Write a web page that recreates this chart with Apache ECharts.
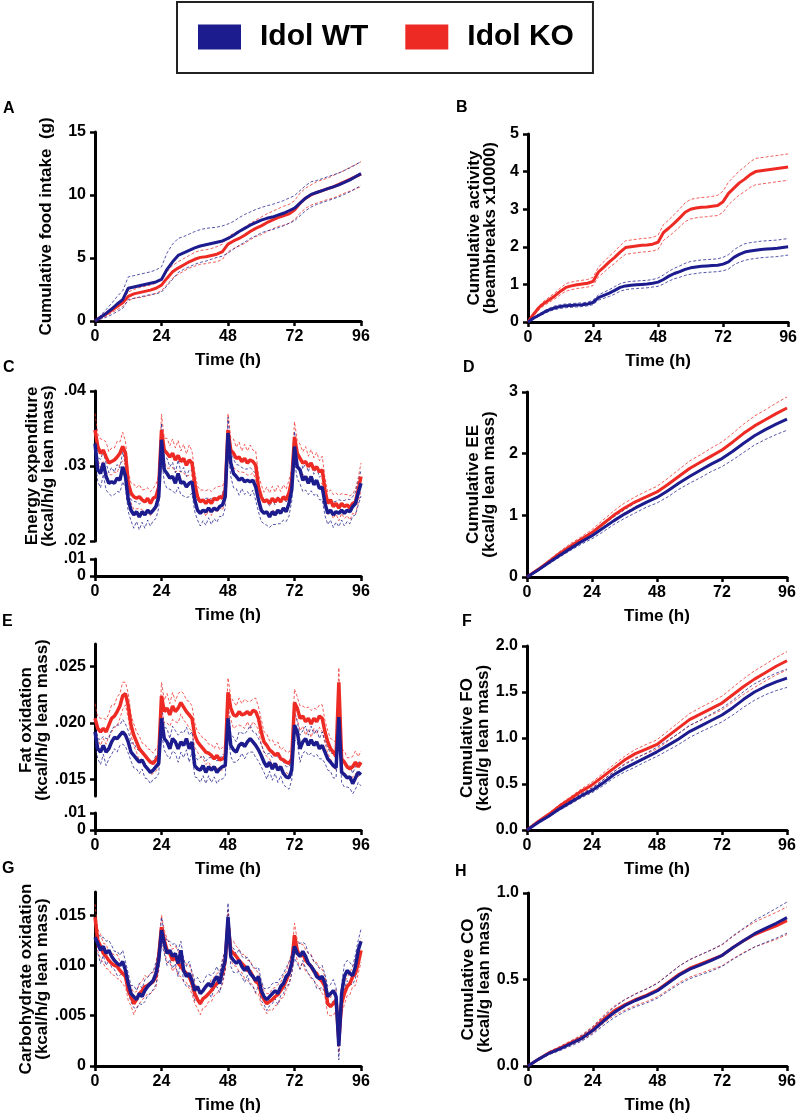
<!DOCTYPE html>
<html><head><meta charset="utf-8">
<script src="https://cdn.jsdelivr.net/npm/echarts@6/dist/echarts.min.js"></script>
<style>html,body{margin:0;padding:0;background:#fff}#chart{width:800px;height:1115px}</style>
</head><body><div id="chart"></div>
<script>
// ---------- time axes ----------
const HOURS_1H = [0,1,2,3,4,5,6,7,8,9,10,11,12,13,14,15,16,17,18,19,20,21,22,23,
  24,25,26,27,28,29,30,31,32,33,34,35,36,37,38,39,40,41,42,43,44,45,46,47,
  48,49,50,51,52,53,54,55,56,57,58,59,60,61,62,63,64,65,66,67,68,69,70,71,
  72,73,74,75,76,77,78,79,80,81,82,83,84,85,86,87,88,89,90,91,92,93,94,95,96];
const HOURS_2H = [0,2,4,6,8,10,12,14,16,18,20,22,24,26,28,30,32,34,36,38,40,42,44,46,48,
  50,52,54,56,58,60,62,64,66,68,70,72,74,76,78,80,82,84,86,88,90,92,94,96];
const HOURS_4H = [0,4,8,12,16,20,24,28,32,36,40,44,48,52,56,60,64,68,72,76,80,84,88,92,96];
const TIME_TICKS = [0,24,48,72,96];

// ---------- A: cumulative food intake (g) ----------
const A_WT = [0,0.3,0.6,0.95,1.35,1.7,2.6,2.7,2.8,2.9,3.0,3.1,3.3,4.1,4.7,5.2,5.4,5.6,5.8,5.95,6.05,6.15,6.25,6.35,6.55,
  6.8,7.1,7.35,7.6,7.8,8.0,8.15,8.25,8.4,8.55,8.75,8.95,9.35,9.75,10.05,10.2,10.35,10.5,10.65,10.8,11.0,11.2,11.45,11.7];
const A_WT_SEM = [0,0.15,0.3,0.45,0.6,0.7,0.9,0.9,0.9,0.9,0.9,0.95,1.0,1.3,1.4,1.35,1.3,1.3,1.3,1.3,1.3,1.25,1.2,1.2,1.15,
  1.1,1.1,1.1,1.05,1.05,1.0,1.0,1.0,1.0,1.0,1.0,1.0,1.0,1.0,1.0,0.95,0.95,0.95,0.95,0.95,0.95,0.95,0.95,0.95];
const A_KO = [0,0.3,0.55,0.85,1.15,1.45,1.95,2.15,2.25,2.35,2.45,2.6,2.85,3.4,3.9,4.2,4.45,4.7,4.9,5.05,5.1,5.2,5.3,5.5,6.1,
  6.35,6.55,6.8,7.1,7.35,7.55,7.8,8.0,8.2,8.35,8.5,8.8,9.35,9.75,10.0,10.2,10.35,10.5,10.65,10.85,11.05,11.25,11.45,11.65];
const A_KO_SEM = [0,0.1,0.15,0.2,0.25,0.3,0.35,0.35,0.4,0.4,0.4,0.4,0.45,0.5,0.5,0.5,0.5,0.5,0.55,0.55,0.55,0.55,0.6,0.6,0.6,
  0.6,0.6,0.65,0.65,0.65,0.7,0.7,0.7,0.7,0.75,0.75,0.75,0.8,0.8,0.8,0.85,0.85,0.85,0.9,0.9,0.9,0.95,0.95,1.0];

// ---------- B: cumulative activity (beambreaks x10000) ----------
const B_WT = [0,0.1,0.18,0.26,0.33,0.38,0.41,0.43,0.44,0.45,0.46,0.48,0.52,0.65,0.71,0.77,0.84,0.92,0.96,0.98,0.99,1.0,1.01,1.03,1.06,
  1.13,1.22,1.29,1.34,1.4,1.44,1.46,1.48,1.49,1.5,1.51,1.54,1.6,1.72,1.8,1.86,1.89,1.91,1.93,1.94,1.95,1.96,1.98,2.0];
const B_WT_SEM = [0,0.02,0.03,0.04,0.04,0.05,0.05,0.05,0.05,0.05,0.05,0.05,0.06,0.07,0.08,0.09,0.1,0.1,0.1,0.1,0.1,0.1,0.1,0.1,0.11,
  0.12,0.13,0.14,0.15,0.16,0.17,0.17,0.17,0.17,0.17,0.17,0.18,0.19,0.2,0.21,0.22,0.22,0.22,0.22,0.22,0.22,0.22,0.22,0.22];
const B_KO = [0,0.2,0.38,0.5,0.6,0.7,0.82,0.92,0.96,0.99,1.01,1.03,1.08,1.33,1.46,1.6,1.72,1.86,1.98,2.0,2.02,2.04,2.05,2.07,2.12,
  2.38,2.5,2.63,2.77,2.92,3.0,3.03,3.05,3.06,3.08,3.1,3.2,3.42,3.56,3.7,3.8,3.92,4.0,4.02,4.04,4.06,4.08,4.1,4.12];
const B_KO_SEM = [0,0.03,0.05,0.06,0.07,0.08,0.09,0.1,0.1,0.1,0.1,0.1,0.11,0.13,0.14,0.15,0.16,0.17,0.18,0.18,0.18,0.18,0.18,0.18,0.19,
  0.21,0.22,0.23,0.24,0.25,0.26,0.26,0.26,0.26,0.26,0.27,0.28,0.3,0.31,0.32,0.33,0.34,0.35,0.35,0.35,0.35,0.35,0.35,0.35];

// ---------- C: energy expenditure (kcal/h/g lean mass) ----------
const C_WT = [
  .0330,.0295,.0290,.0304,.0286,.0277,.0279,.0277,.0284,.0281,.0299,.0286,.0255,.0241,.0235,.0239,.0232,.0239,.0235,.0241,.0237,.0241,.0246,.0259,
  .0335,.0295,.0290,.0284,.0286,.0277,.0290,.0277,.0279,.0272,.0277,.0279,.0255,.0241,.0237,.0241,.0239,.0244,.0239,.0244,.0241,.0246,.0248,.0259,
  .0344,.0304,.0290,.0286,.0281,.0284,.0279,.0281,.0279,.0281,.0272,.0255,.0241,.0237,.0239,.0232,.0239,.0235,.0241,.0237,.0244,.0239,.0250,.0268,
  .0326,.0299,.0295,.0281,.0286,.0277,.0286,.0275,.0281,.0270,.0272,.0250,.0237,.0241,.0235,.0239,.0237,.0241,.0237,.0241,.0239,.0246,.0250,.0264,
  .0277];
const C_WT_SEM = [
  .0020,.0016,.0019,.0015,.0018,.0014,.0019,.0015,.0018,.0016,.0020,.0015,.0016,.0014,.0018,.0013,.0017,.0014,.0018,.0013,.0017,.0014,.0016,.0015,
  .0022,.0017,.0020,.0015,.0019,.0014,.0018,.0015,.0019,.0014,.0018,.0015,.0016,.0013,.0017,.0014,.0018,.0013,.0017,.0014,.0016,.0013,.0016,.0015,
  .0021,.0018,.0019,.0016,.0020,.0014,.0017,.0015,.0019,.0013,.0018,.0016,.0015,.0014,.0018,.0014,.0017,.0013,.0018,.0014,.0016,.0013,.0017,.0015,
  .0020,.0016,.0019,.0015,.0018,.0015,.0019,.0014,.0018,.0015,.0017,.0016,.0015,.0013,.0017,.0014,.0018,.0013,.0017,.0015,.0016,.0013,.0015,.0016,
  .0017];
const C_KO = [
  .0348,.0326,.0317,.0321,.0312,.0304,.0306,.0308,.0312,.0317,.0326,.0317,.0277,.0264,.0259,.0257,.0259,.0255,.0252,.0257,.0250,.0257,.0259,.0272,
  .0348,.0321,.0317,.0312,.0317,.0308,.0314,.0306,.0310,.0301,.0308,.0304,.0277,.0259,.0252,.0255,.0250,.0255,.0250,.0257,.0255,.0259,.0257,.0268,
  .0348,.0321,.0317,.0310,.0312,.0306,.0310,.0304,.0308,.0306,.0301,.0272,.0259,.0252,.0255,.0250,.0257,.0252,.0257,.0252,.0259,.0255,.0264,.0281,
  .0339,.0317,.0310,.0304,.0306,.0299,.0304,.0295,.0299,.0292,.0295,.0268,.0250,.0255,.0246,.0250,.0244,.0250,.0246,.0248,.0244,.0250,.0252,.0268,
  .0286];
const C_KO_SEM = [
  .0022,.0017,.0019,.0014,.0020,.0015,.0018,.0016,.0021,.0015,.0019,.0016,.0015,.0013,.0017,.0014,.0016,.0013,.0017,.0014,.0016,.0013,.0017,.0015,
  .0021,.0016,.0020,.0015,.0019,.0016,.0020,.0014,.0019,.0015,.0020,.0016,.0015,.0014,.0016,.0013,.0017,.0014,.0016,.0013,.0017,.0014,.0016,.0015,
  .0022,.0017,.0019,.0015,.0020,.0014,.0019,.0016,.0020,.0015,.0019,.0016,.0016,.0013,.0017,.0014,.0016,.0013,.0017,.0014,.0016,.0014,.0017,.0015,
  .0020,.0017,.0019,.0015,.0020,.0014,.0018,.0016,.0019,.0015,.0018,.0016,.0015,.0013,.0016,.0014,.0017,.0013,.0016,.0014,.0016,.0013,.0017,.0016,
  .0018];

// ---------- D: cumulative EE (kcal/g lean mass) ----------
const D_WT = [0,0.11,0.23,0.35,0.46,0.57,0.67,0.79,0.91,1.02,1.12,1.21,1.29,1.40,1.52,1.63,1.73,1.83,1.92,2.04,2.17,2.29,2.39,2.48,2.56];
const D_WT_SEM = [0,0.01,0.02,0.03,0.03,0.04,0.05,0.06,0.06,0.07,0.08,0.08,0.09,0.1,0.1,0.11,0.12,0.12,0.13,0.14,0.15,0.15,0.16,0.17,0.18];
const D_KO = [0,0.12,0.25,0.38,0.50,0.61,0.72,0.86,1.0,1.12,1.22,1.30,1.38,1.50,1.63,1.76,1.86,1.96,2.06,2.19,2.33,2.45,2.55,2.65,2.74];
const D_KO_SEM = [0,0.01,0.02,0.03,0.04,0.04,0.05,0.06,0.07,0.08,0.08,0.09,0.09,0.1,0.11,0.12,0.12,0.13,0.13,0.14,0.15,0.16,0.16,0.17,0.18];

// ---------- E: fat oxidation (kcal/h/g lean mass) ----------
const E_WT = [
  .0192,.0177,.0174,.0180,.0174,.0177,.0183,.0187,.0186,.0189,.0192,.0189,.0183,.0174,.0171,.0168,.0165,.0167,.0162,.0159,.0156,.0158,.0161,.0164,
  .0204,.0186,.0183,.0177,.0186,.0183,.0177,.0183,.0180,.0186,.0177,.0183,.0162,.0159,.0158,.0162,.0156,.0161,.0158,.0161,.0156,.0159,.0161,.0162,
  .0204,.0180,.0176,.0174,.0180,.0182,.0179,.0183,.0186,.0183,.0180,.0176,.0171,.0165,.0161,.0165,.0159,.0164,.0158,.0161,.0155,.0152,.0151,.0158,
  .0198,.0192,.0177,.0183,.0186,.0180,.0185,.0180,.0183,.0177,.0180,.0174,.0168,.0165,.0162,.0160,.0205,.0156,.0154,.0151,.0152,.0146,.0151,.0156,
  .0154];
const E_WT_SEM = [
  .0012,.0009,.0011,.0008,.0012,.0009,.0011,.0010,.0012,.0009,.0011,.0010,.0010,.0008,.0011,.0009,.0010,.0008,.0011,.0009,.0010,.0008,.0010,.0009,
  .0013,.0010,.0012,.0009,.0011,.0010,.0012,.0009,.0011,.0010,.0012,.0009,.0010,.0008,.0011,.0009,.0010,.0008,.0011,.0009,.0010,.0009,.0011,.0009,
  .0012,.0010,.0011,.0009,.0012,.0009,.0011,.0010,.0012,.0009,.0011,.0010,.0010,.0009,.0011,.0008,.0010,.0009,.0011,.0008,.0010,.0009,.0010,.0009,
  .0013,.0009,.0012,.0010,.0011,.0009,.0012,.0010,.0011,.0009,.0012,.0010,.0010,.0008,.0011,.0009,.0010,.0009,.0011,.0008,.0010,.0009,.0010,.0009,
  .0010];
const E_KO = [
  .0204,.0195,.0192,.0195,.0192,.0198,.0204,.0206,.0210,.0215,.0224,.0226,.0215,.0198,.0189,.0183,.0177,.0174,.0171,.0168,.0165,.0164,.0167,.0171,
  .0224,.0210,.0213,.0207,.0215,.0210,.0213,.0218,.0214,.0210,.0207,.0204,.0189,.0183,.0180,.0177,.0174,.0173,.0171,.0168,.0171,.0167,.0168,.0170,
  .0227,.0213,.0207,.0206,.0210,.0207,.0208,.0210,.0207,.0211,.0210,.0204,.0192,.0183,.0180,.0176,.0174,.0171,.0173,.0168,.0167,.0165,.0164,.0168,
  .0218,.0213,.0204,.0206,.0201,.0204,.0199,.0204,.0201,.0206,.0204,.0192,.0183,.0177,.0174,.0170,.0236,.0168,.0165,.0161,.0159,.0161,.0165,.0161,
  .0165];
const E_KO_SEM = [
  .0013,.0010,.0012,.0009,.0011,.0010,.0012,.0010,.0013,.0011,.0012,.0010,.0011,.0009,.0010,.0009,.0011,.0008,.0010,.0009,.0011,.0009,.0010,.0009,
  .0012,.0010,.0013,.0010,.0012,.0009,.0013,.0010,.0012,.0010,.0012,.0011,.0011,.0009,.0010,.0009,.0011,.0008,.0010,.0009,.0011,.0009,.0010,.0009,
  .0013,.0010,.0012,.0009,.0012,.0010,.0013,.0009,.0012,.0010,.0012,.0010,.0011,.0009,.0010,.0008,.0011,.0009,.0010,.0008,.0011,.0009,.0010,.0009,
  .0012,.0010,.0011,.0009,.0012,.0010,.0012,.0009,.0011,.0010,.0012,.0010,.0010,.0009,.0011,.0012,.0013,.0009,.0010,.0008,.0010,.0009,.0010,.0009,
  .0010];

// ---------- F: cumulative FO (kcal/g lean mass) ----------
const F_WT = [0,0.08,0.15,0.23,0.30,0.37,0.43,0.51,0.60,0.67,0.73,0.79,0.85,0.92,0.99,1.07,1.13,1.19,1.25,1.33,1.42,1.50,1.56,1.61,1.65];
const F_WT_SEM = [0,0.005,0.01,0.015,0.02,0.02,0.025,0.03,0.035,0.04,0.045,0.045,0.05,0.055,0.06,0.065,0.065,0.07,0.075,0.08,0.085,0.09,0.09,0.095,0.1];
const F_KO = [0,0.09,0.17,0.26,0.34,0.42,0.49,0.58,0.67,0.76,0.83,0.88,0.93,1.02,1.11,1.20,1.26,1.32,1.38,1.47,1.56,1.64,1.71,1.78,1.84];
const F_KO_SEM = [0,0.005,0.01,0.015,0.02,0.025,0.03,0.035,0.04,0.04,0.045,0.05,0.05,0.055,0.06,0.065,0.07,0.07,0.075,0.08,0.085,0.09,0.09,0.095,0.1];

// ---------- G: carbohydrate oxidation (kcal/h/g lean mass) ----------
const G_WT = [
  .0128,.0122,.0115,.0119,.0112,.0115,.0109,.0105,.0102,.0100,.0104,.0095,.0082,.0072,.0069,.0066,.0072,.0069,.0075,.0079,.0082,.0085,.0092,.0105,
  .0135,.0122,.0112,.0115,.0109,.0112,.0102,.0115,.0095,.0089,.0092,.0085,.0075,.0079,.0072,.0075,.0079,.0082,.0079,.0085,.0089,.0082,.0095,.0105,
  .0148,.0109,.0105,.0102,.0105,.0099,.0095,.0099,.0092,.0089,.0085,.0089,.0075,.0069,.0066,.0069,.0072,.0075,.0072,.0079,.0082,.0089,.0092,.0102,
  .0119,.0112,.0109,.0114,.0109,.0102,.0099,.0095,.0089,.0087,.0089,.0082,.0069,.0072,.0075,.0069,.0020,.0072,.0089,.0095,.0092,.0090,.0099,.0115,
  .0124];
const G_WT_SEM = [
  .0012,.0010,.0013,.0009,.0012,.0010,.0011,.0009,.0012,.0010,.0011,.0009,.0010,.0008,.0011,.0009,.0010,.0008,.0011,.0009,.0010,.0009,.0011,.0010,
  .0013,.0010,.0012,.0009,.0012,.0010,.0013,.0009,.0011,.0010,.0012,.0009,.0010,.0009,.0011,.0008,.0010,.0009,.0011,.0008,.0010,.0009,.0011,.0010,
  .0014,.0010,.0012,.0009,.0011,.0010,.0012,.0009,.0011,.0010,.0012,.0009,.0010,.0008,.0011,.0009,.0010,.0008,.0011,.0009,.0010,.0009,.0011,.0010,
  .0012,.0010,.0013,.0009,.0012,.0010,.0011,.0009,.0012,.0010,.0011,.0009,.0010,.0009,.0011,.0009,.0014,.0009,.0012,.0010,.0011,.0009,.0012,.0010,
  .0012];
const G_KO = [
  .0148,.0125,.0119,.0112,.0109,.0105,.0102,.0100,.0099,.0095,.0092,.0089,.0075,.0069,.0062,.0066,.0072,.0075,.0079,.0080,.0082,.0084,.0089,.0109,
  .0138,.0125,.0115,.0112,.0105,.0109,.0102,.0099,.0095,.0092,.0089,.0082,.0072,.0066,.0062,.0067,.0069,.0072,.0075,.0079,.0082,.0085,.0092,.0105,
  .0142,.0115,.0112,.0109,.0105,.0102,.0099,.0095,.0094,.0089,.0084,.0082,.0072,.0066,.0062,.0064,.0066,.0069,.0071,.0075,.0079,.0085,.0092,.0102,
  .0130,.0115,.0109,.0112,.0105,.0102,.0099,.0094,.0092,.0087,.0084,.0079,.0062,.0059,.0062,.0066,.0026,.0062,.0072,.0079,.0082,.0089,.0092,.0102,
  .0115];
const G_KO_SEM = [
  .0013,.0011,.0012,.0010,.0012,.0009,.0011,.0010,.0012,.0009,.0011,.0010,.0010,.0009,.0011,.0008,.0010,.0009,.0011,.0008,.0010,.0009,.0011,.0010,
  .0012,.0010,.0012,.0009,.0011,.0010,.0012,.0010,.0011,.0009,.0012,.0010,.0010,.0009,.0011,.0009,.0010,.0008,.0011,.0009,.0010,.0009,.0011,.0010,
  .0013,.0010,.0012,.0010,.0011,.0009,.0012,.0010,.0011,.0009,.0012,.0010,.0011,.0009,.0010,.0008,.0011,.0009,.0010,.0008,.0011,.0009,.0011,.0010,
  .0012,.0010,.0012,.0009,.0011,.0010,.0012,.0009,.0011,.0010,.0012,.0010,.0011,.0009,.0012,.0010,.0013,.0010,.0011,.0009,.0011,.0010,.0012,.0010,
  .0012];

// ---------- H: cumulative CO (kcal/g lean mass) ----------
const H_WT = [0,0.04,0.075,0.10,0.13,0.16,0.205,0.26,0.31,0.35,0.38,0.405,0.435,0.48,0.525,0.56,0.585,0.61,0.64,0.685,0.725,0.765,0.795,0.825,0.858];
const H_WT_SEM = [0,0.004,0.008,0.01,0.013,0.016,0.02,0.025,0.03,0.034,0.037,0.04,0.043,0.047,0.052,0.055,0.058,0.061,0.064,0.068,0.072,0.077,0.081,0.086,0.09];
const H_KO = [0,0.04,0.078,0.105,0.135,0.165,0.21,0.27,0.32,0.355,0.385,0.41,0.44,0.485,0.53,0.565,0.59,0.615,0.64,0.685,0.725,0.76,0.785,0.81,0.84];
const H_KO_SEM = [0,0.004,0.007,0.01,0.012,0.015,0.019,0.023,0.027,0.031,0.034,0.037,0.04,0.044,0.048,0.051,0.054,0.057,0.06,0.064,0.068,0.072,0.075,0.078,0.08];

// ---------- styling / layout ----------
const SERIES_NAMES = ['Idol WT', 'Idol KO'];
const BLUE = '#1c1c8e', RED = '#ee2a24';
const FONT = '"Liberation Sans", Arial, Helvetica, sans-serif';

const GRIDS = [
  {left: 95,  top: 132, width: 266, height: 189}, // 0 A
  {left: 528, top: 134, width: 261, height: 188}, // 1 B
  {left: 95,  top: 391, width: 266, height: 150}, // 2 C upper
  {left: 95,  top: 559, width: 266, height: 17},  // 3 C lower
  {left: 527, top: 392, width: 260, height: 185}, // 4 D
  {left: 95,  top: 644, width: 266, height: 152}, // 5 E upper
  {left: 95,  top: 813, width: 266, height: 17},  // 6 E lower
  {left: 527, top: 646, width: 260, height: 184}, // 7 F
  {left: 95,  top: 892, width: 266, height: 174}, // 8 G
  {left: 528, top: 893, width: 259, height: 176}  // 9 H
];

const dotFmt = d => v => v === 0 ? '0' : v.toFixed(d).replace(/^0/, '');
const fixFmt = d => v => v.toFixed(d);

const YAX = [
  {min: 0, max: 15, interval: 5, name: 'Cumulative food intake  (g)', gap: 41},
  {min: 0, max: 5, interval: 1, name: 'Cumulative activity\n(beambreaks x10000)', gap: 30},
  {min: 0.02, max: 0.04, interval: 0.01, fmt: dotFmt(2), name: 'Energy expenditure\n(kcal/h/g lean mass)', gap: 39},
  {min: 0, max: 0.01, interval: 0.01, fmt: dotFmt(2)},
  {min: 0, max: 3, interval: 1, name: 'Cumulative EE\n(kcal/g lean mass)', gap: 30},
  {min: 0.0135, max: 0.027, custom: [0.015, 0.02, 0.025], fmt: dotFmt(3), name: 'Fat oxidation\n(kcal/h/g lean mass)', gap: 39},
  {min: 0, max: 0.01, interval: 0.01, fmt: dotFmt(2)},
  {min: 0, max: 2, interval: 0.5, fmt: fixFmt(1), name: 'Cumulative FO\n(kcal/g lean mass)', gap: 31},
  {min: 0, max: 0.0173, custom: [0, 0.005, 0.01, 0.015], fmt: dotFmt(3), name: 'Carbohydrate oxidation\n(kcal/h/g lean mass)', gap: 42},
  {min: 0, max: 1, interval: 0.5, fmt: fixFmt(1), name: 'Cumulative CO\n(kcal/g lean mass)', gap: 33}
];
const HIDE_X = [2, 5];

const axisLine = {show: true, onZero: false, lineStyle: {color: '#000', width: 3}};
const axisTick = {show: true, length: 5, inside: false, lineStyle: {color: '#000', width: 2.5}};
const labelBase = {color: '#000', fontFamily: FONT, fontWeight: 'bold', fontSize: 16};

const xAxis = GRIDS.map((g, i) => ({
  type: 'value', gridIndex: i, min: 0, max: 96, interval: 24,
  show: !HIDE_X.includes(i),
  axisLine, axisTick, splitLine: {show: false},
  axisLabel: Object.assign({margin: 8, customValues: TIME_TICKS}, labelBase),
  name: 'Time (h)', nameLocation: 'middle', nameGap: 31,
  nameTextStyle: {color: '#000', fontFamily: FONT, fontWeight: 'bold', fontSize: 17}
}));

const yAxis = YAX.map((a, i) => {
  const ax = {
    type: 'value', gridIndex: i, min: a.min, max: a.max,
    axisLine, splitLine: {show: false},
    axisTick: Object.assign({}, axisTick),
    axisLabel: Object.assign({margin: 9}, labelBase)
  };
  if (a.interval !== undefined) ax.interval = a.interval;
  if (a.custom) { ax.axisLabel.customValues = a.custom; ax.axisTick.customValues = a.custom; }
  if (a.fmt) ax.axisLabel.formatter = a.fmt;
  if (a.name) {
    ax.name = a.name; ax.nameLocation = 'middle'; ax.nameGap = a.gap; ax.nameRotate = 90;
    ax.nameTextStyle = {color: '#000', fontFamily: FONT, fontWeight: 'bold', fontSize: 17, lineHeight: 16};
  }
  return ax;
});

const series = [];
function addPanel(g, xs, wt, wtSem, ko, koSem, width) {
  const sem = (name, ys, s, sign, color) => series.push({
    type: 'line', name, xAxisIndex: g, yAxisIndex: g, symbol: 'none', silent: true,
    data: xs.map((x, i) => [x, ys[i] + sign * s[i]]),
    lineStyle: {color, width: 1, type: [3, 2], opacity: 0.75}, itemStyle: {color}, z: 2
  });
  const mean = (name, ys, color) => series.push({
    type: 'line', name, xAxisIndex: g, yAxisIndex: g, symbol: 'none', silent: true,
    data: xs.map((x, i) => [x, ys[i]]),
    lineStyle: {color, width}, itemStyle: {color}, color, z: 3
  });
  sem('Idol KO SEM', ko, koSem, 1, RED);
  sem('Idol KO SEM', ko, koSem, -1, RED);
  sem('Idol WT SEM', wt, wtSem, 1, BLUE);
  sem('Idol WT SEM', wt, wtSem, -1, BLUE);
  mean(SERIES_NAMES[1], ko, RED);
  mean(SERIES_NAMES[0], wt, BLUE);
}
addPanel(0, HOURS_2H, A_WT, A_WT_SEM, A_KO, A_KO_SEM, 3);
addPanel(1, HOURS_2H, B_WT, B_WT_SEM, B_KO, B_KO_SEM, 3);
addPanel(2, HOURS_1H, C_WT, C_WT_SEM, C_KO, C_KO_SEM, 3.5);
addPanel(4, HOURS_4H, D_WT, D_WT_SEM, D_KO, D_KO_SEM, 3);
addPanel(5, HOURS_1H, E_WT, E_WT_SEM, E_KO, E_KO_SEM, 3.5);
addPanel(7, HOURS_4H, F_WT, F_WT_SEM, F_KO, F_KO_SEM, 3);
addPanel(8, HOURS_1H, G_WT, G_WT_SEM, G_KO, G_KO_SEM, 3.5);
addPanel(9, HOURS_4H, H_WT, H_WT_SEM, H_KO, H_KO_SEM, 3);

const LETTERS = [
  ['A', 3, 101], ['B', 456, 100], ['C', 3, 360], ['D', 463, 360],
  ['E', 2, 614], ['F', 462, 614], ['G', 2, 861], ['H', 455, 864]
];

const option = {
  animation: false,
  backgroundColor: '#fff',
  title: LETTERS.map(([t, l, tp]) => ({
    text: t, left: l, top: tp, padding: 0,
    textStyle: {color: '#000', fontFamily: FONT, fontWeight: 'bold', fontSize: 16}
  })),
  legend: {
    data: SERIES_NAMES, left: 177, top: 2,
    icon: 'rect', itemWidth: 43, itemHeight: 25, itemGap: 37,
    padding: [20, 19, 21, 21],
    borderColor: '#222', borderWidth: 2,
    selectedMode: false,
    textStyle: {color: '#000', fontFamily: FONT, fontWeight: 'bold', fontSize: 30, lineHeight: 30, padding: [0, 0, 0, 14]}
  },
  grid: GRIDS.map(g => Object.assign({containLabel: false}, g)),
  xAxis, yAxis, series
};

const chart = echarts.init(document.getElementById('chart'), null, {renderer: 'canvas'});
chart.setOption(option);
</script></body></html>
